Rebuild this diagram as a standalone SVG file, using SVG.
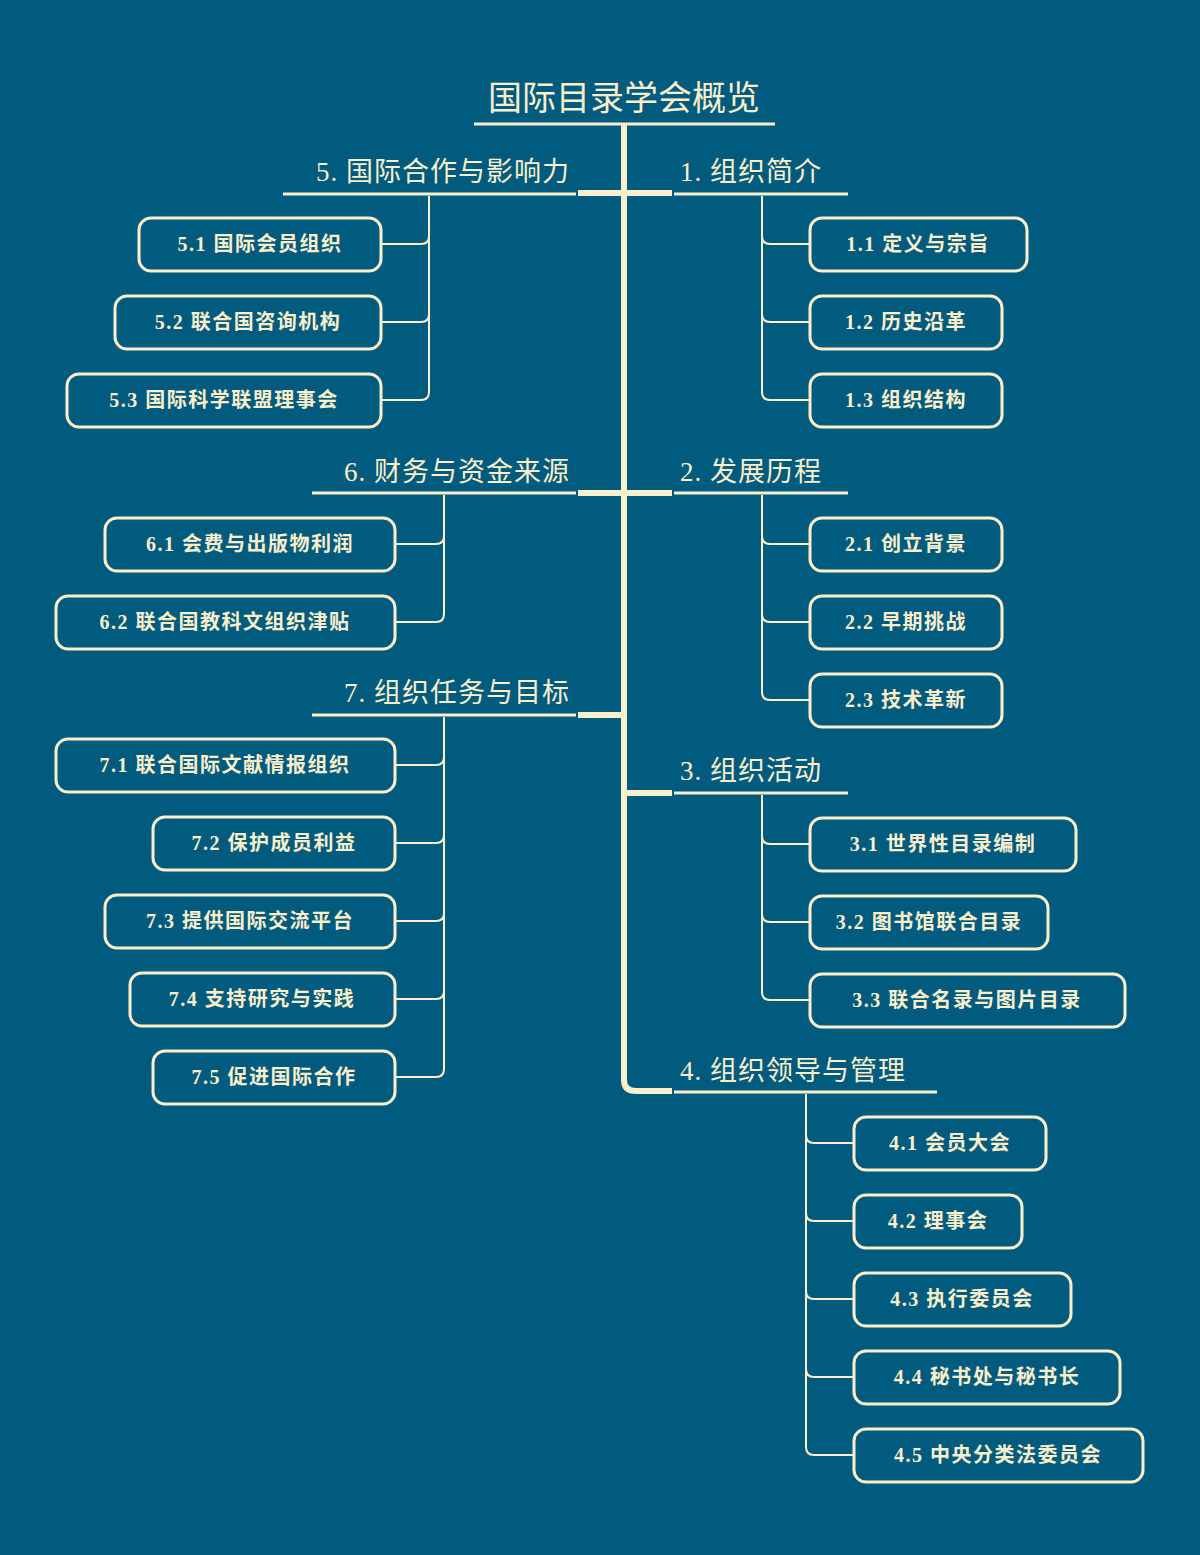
<svg xmlns="http://www.w3.org/2000/svg" width="1200" height="1555" viewBox="0 0 1200 1555">
<style>
.bg{fill:#005b7e}
.ln{fill:none;stroke:#fbeecb;stroke-width:2}
.tk{fill:none;stroke:#fbeecb;stroke-width:6;stroke-linecap:butt}
.ul{stroke:#fbeecb;stroke-width:3}
.box{fill:#005b7e;stroke:#fbeecb;stroke-width:3}
text{fill:#fbeecb;font-family:"Liberation Serif","Noto Sans CJK SC",serif}
.t{font-size:34px}
.h{font-size:27px;letter-spacing:1px}
.c{font-size:20px;font-weight:bold;letter-spacing:1.5px;text-anchor:middle}
</style>
<rect class="bg" width="1200" height="1555"/>
<g id="connectors">
<path class="tk" d="M624,125 V1080 Q624,1091 636,1091 H672"/>
<path class="tk" d="M578,193 H672 M578,493 H672 M578,715 H624 M624,793 H672"/>
<path class="ln" d="M762,196 V236 Q762,244 770,244 H810 M762,236 V314 Q762,322 770,322 H810 M762,314 V392 Q762,400 770,400 H810"/>
<path class="ln" d="M762,495 V536 Q762,544 770,544 H810 M762,536 V614 Q762,622 770,622 H810 M762,614 V692 Q762,700 770,700 H810"/>
<path class="ln" d="M762,795 V836 Q762,844 770,844 H810 M762,836 V914 Q762,922 770,922 H810 M762,914 V992 Q762,1000 770,1000 H810"/>
<path class="ln" d="M806,1094 V1135 Q806,1143 814,1143 H854 M806,1135 V1213 Q806,1221 814,1221 H854 M806,1213 V1291 Q806,1299 814,1299 H854 M806,1291 V1369 Q806,1377 814,1377 H854 M806,1369 V1447 Q806,1455 814,1455 H854"/>
<path class="ln" d="M429,196 V236 Q429,244 421,244 H381 M429,236 V314 Q429,322 421,322 H381 M429,314 V392 Q429,400 421,400 H381"/>
<path class="ln" d="M444,495 V536 Q444,544 436,544 H395 M444,536 V614 Q444,622 436,622 H395"/>
<path class="ln" d="M444,717 V757 Q444,765 436,765 H395 M444,757 V835 Q444,843 436,843 H395 M444,835 V913 Q444,921 436,921 H395 M444,913 V991 Q444,999 436,999 H395 M444,991 V1069 Q444,1077 436,1077 H395"/>
</g>
<g id="root"><text class="t" x="624" y="110" text-anchor="middle">国际目录学会概览</text><line class="ul" x1="474" y1="124" x2="775" y2="124"/></g>
<g id="t1"><text class="h" x="680" y="181">1.  组织简介</text><line class="ul" x1="674" y1="194" x2="848" y2="194"/></g>
<g id="t2"><text class="h" x="680" y="481">2.  发展历程</text><line class="ul" x1="674" y1="493" x2="848" y2="493"/></g>
<g id="t3"><text class="h" x="680" y="780">3.  组织活动</text><line class="ul" x1="674" y1="793" x2="848" y2="793"/></g>
<g id="t4"><text class="h" x="680" y="1080">4.  组织领导与管理</text><line class="ul" x1="674" y1="1092" x2="937" y2="1092"/></g>
<g id="t5"><text class="h" x="570" y="181" text-anchor="end">5.  国际合作与影响力</text><line class="ul" x1="283" y1="194" x2="576" y2="194"/></g>
<g id="t6"><text class="h" x="570" y="481" text-anchor="end">6.  财务与资金来源</text><line class="ul" x1="312" y1="493" x2="576" y2="493"/></g>
<g id="t7"><text class="h" x="570" y="702" text-anchor="end">7.  组织任务与目标</text><line class="ul" x1="312" y1="715" x2="576" y2="715"/></g>
<g id="n11"><rect class="box" x="810" y="218" width="217" height="53" rx="12"/><text class="c" x="918" y="251">1.1 定义与宗旨</text></g>
<g id="n12"><rect class="box" x="810" y="296" width="192" height="53" rx="12"/><text class="c" x="906" y="329">1.2 历史沿革</text></g>
<g id="n13"><rect class="box" x="810" y="374" width="192" height="53" rx="12"/><text class="c" x="906" y="407">1.3 组织结构</text></g>
<g id="n21"><rect class="box" x="810" y="518" width="192" height="53" rx="12"/><text class="c" x="906" y="551">2.1 创立背景</text></g>
<g id="n22"><rect class="box" x="810" y="596" width="192" height="53" rx="12"/><text class="c" x="906" y="629">2.2 早期挑战</text></g>
<g id="n23"><rect class="box" x="810" y="674" width="192" height="53" rx="12"/><text class="c" x="906" y="707">2.3 技术革新</text></g>
<g id="n31"><rect class="box" x="810" y="818" width="266" height="53" rx="12"/><text class="c" x="943" y="851">3.1 世界性目录编制</text></g>
<g id="n32"><rect class="box" x="810" y="896" width="238" height="53" rx="12"/><text class="c" x="929" y="929">3.2 图书馆联合目录</text></g>
<g id="n33"><rect class="box" x="810" y="974" width="315" height="53" rx="12"/><text class="c" x="967" y="1007">3.3 联合名录与图片目录</text></g>
<g id="n41"><rect class="box" x="854" y="1117" width="192" height="53" rx="12"/><text class="c" x="950" y="1150">4.1 会员大会</text></g>
<g id="n42"><rect class="box" x="854" y="1195" width="168" height="53" rx="12"/><text class="c" x="938" y="1228">4.2 理事会</text></g>
<g id="n43"><rect class="box" x="854" y="1273" width="217" height="53" rx="12"/><text class="c" x="962" y="1306">4.3 执行委员会</text></g>
<g id="n44"><rect class="box" x="854" y="1351" width="266" height="53" rx="12"/><text class="c" x="987" y="1384">4.4 秘书处与秘书长</text></g>
<g id="n45"><rect class="box" x="854" y="1429" width="289" height="53" rx="12"/><text class="c" x="998" y="1462">4.5 中央分类法委员会</text></g>
<g id="n51"><rect class="box" x="139" y="218" width="242" height="53" rx="12"/><text class="c" x="260" y="251">5.1 国际会员组织</text></g>
<g id="n52"><rect class="box" x="115" y="296" width="266" height="53" rx="12"/><text class="c" x="248" y="329">5.2 联合国咨询机构</text></g>
<g id="n53"><rect class="box" x="67" y="374" width="314" height="53" rx="12"/><text class="c" x="224" y="407">5.3 国际科学联盟理事会</text></g>
<g id="n61"><rect class="box" x="105" y="518" width="290" height="53" rx="12"/><text class="c" x="250" y="551">6.1 会费与出版物利润</text></g>
<g id="n62"><rect class="box" x="56" y="596" width="339" height="53" rx="12"/><text class="c" x="225" y="629">6.2 联合国教科文组织津贴</text></g>
<g id="n71"><rect class="box" x="56" y="739" width="339" height="53" rx="12"/><text class="c" x="225" y="772">7.1 联合国际文献情报组织</text></g>
<g id="n72"><rect class="box" x="153" y="817" width="242" height="53" rx="12"/><text class="c" x="274" y="850">7.2 保护成员利益</text></g>
<g id="n73"><rect class="box" x="105" y="895" width="290" height="53" rx="12"/><text class="c" x="250" y="928">7.3 提供国际交流平台</text></g>
<g id="n74"><rect class="box" x="130" y="973" width="265" height="53" rx="12"/><text class="c" x="262" y="1006">7.4 支持研究与实践</text></g>
<g id="n75"><rect class="box" x="153" y="1051" width="242" height="53" rx="12"/><text class="c" x="274" y="1084">7.5 促进国际合作</text></g>
</svg>
